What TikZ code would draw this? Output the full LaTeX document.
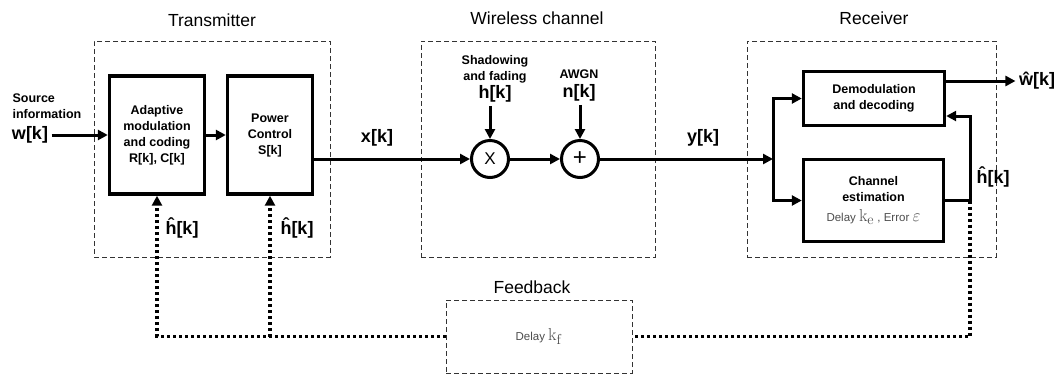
\documentclass[tikz,border=0pt]{standalone}
\usepackage[no-math]{fontspec}
\setmainfont{Liberation Sans}
\usetikzlibrary{arrows.meta}
\tikzstyle{block}=[draw, line width=3.4pt, align=center, inner sep=0pt, font=\bfseries\fontsize{12.5}{16}\selectfont]
\tikzstyle{groupbox}=[draw=black!80, line width=1pt, dash pattern=on 5pt off 3pt]
\tikzstyle{junction}=[circle, draw, line width=3pt, minimum size=37pt, inner sep=0pt, font=\fontsize{17}{17}\selectfont]
\tikzstyle{sig}=[line width=3pt, -{Triangle[length=10pt,width=10pt]}]
\tikzstyle{fback}=[line width=3.8pt, dash pattern=on 3pt off 3pt]
\tikzstyle{siglabel}=[font=\bfseries\fontsize{18}{18}\selectfont]
\tikzstyle{title}=[font=\fontsize{17.5}{18}\selectfont]
\tikzstyle{note}=[align=center, font=\bfseries\fontsize{12.5}{16}\selectfont]
\newcommand{\block}{\node[block]}
\newcommand{\groupbox}{\node[groupbox]}
\newcommand{\junction}{\node[junction]}
\newcommand{\delaytxt}[2]{{\color{black!70}\mdseries\fontsize{11.5}{12}\selectfont Delay {\fontsize{19}{19}\selectfont$\mathrm{k}_{\mathrm{#1}}$}#2}}

\begin{document}
\begin{tikzpicture}[x=1pt, y=-1pt]
\useasboundingbox (0,0) rectangle (1061,376);
% groups
\groupbox (tx) at (212,149) [minimum width=236pt, minimum height=216pt] {};
\groupbox (ch) at (538,149) [minimum width=234pt, minimum height=216pt] {};
\groupbox (rx) at (871.5,149) [minimum width=249pt, minimum height=216pt] {};
\groupbox (fb) at (539,336.5) [minimum width=186pt, minimum height=73pt] {\delaytxt{f}{}};
\node[title] (txt) at (212,20) {Transmitter};
\node[title] (cht) at (537,18) {Wireless channel};
\node[title] (rxt) at (874,18) {Receiver};
\node[title] (fbt) at (532,287) {Feedback};
% transmitter
\node[note, align=left, anchor=west] (src) at (9,106) {Source\\information};
\node[siglabel] (wk) at (30,135) {w[k]};
\block (amc) at (157,135) [minimum width=95pt, minimum height=118pt] {Adaptive\\modulation\\and coding\\R[k], C[k]};
\block (pc) at (270,135) [minimum width=85pt, minimum height=118pt] {Power\\Control\\S[k]};
\node[siglabel] (hhat1) at (182,228) {ĥ[k]};
\node[siglabel] (hhat2) at (297,228) {ĥ[k]};
\node[siglabel] (xk) at (377,138) {x[k]};
% channel
\junction (mult) at (490,159) {X};
\junction (add) at (580,159) {\fontsize{24}{24}\selectfont +};
\node[note] (sf) at (495,69) {Shadowing\\and fading};
\node[siglabel] (hk) at (495,94) {h[k]};
\node[note] (awgn) at (579,74) {AWGN};
\node[siglabel] (nk) at (579,93) {n[k]};
\node[siglabel] (yk) at (703,138) {y[k]};
% receiver
\coordinate (split) at (773,159);
\coordinate (tap) at (970,116);
\block (demod) at (874,98.5) [minimum width=141pt, minimum height=54pt] {Demodulation\\and decoding};
\block (chest) at (873.5,200.5) [minimum width=140pt, minimum height=82pt] {Channel\\estimation\\[4pt]\delaytxt{e}{ , Error {\fontsize{17}{17}\selectfont$\varepsilon$}}};
\node[siglabel] (hhat3) at (993,177) {ĥ[k]};
\node[siglabel] (what) at (1037,81) {ŵ[k]};

\path[sig]
(wk) edge (amc)
(amc) edge (pc)
(mult) edge (add)
(add) edge (split)
;
\draw[sig] (pc.east |- mult) -- (mult);
\draw[sig] (hk.south -| mult) -- (mult);
\draw[sig] (nk.south -| add) -- (add);
\draw[sig] (split) |- (demod.west);
\draw[sig] (split) |- (chest.west);
\draw[sig] (chest.east) -| (tap) -- (tap -| demod.east);
\draw[sig] ([yshift=17.5pt]demod.east) -- (what);
% feedback
\draw[fback] (tap |- chest.east) -- (tap |- fb.east) -- (fb.east);
\draw[fback, -{Triangle[length=10pt,width=10pt]}] (fb.west) -| (amc.south);
\draw[fback, -{Triangle[length=10pt,width=10pt]}] (pc.south |- fb.west) -- (pc.south);
\end{tikzpicture}
\end{document}
